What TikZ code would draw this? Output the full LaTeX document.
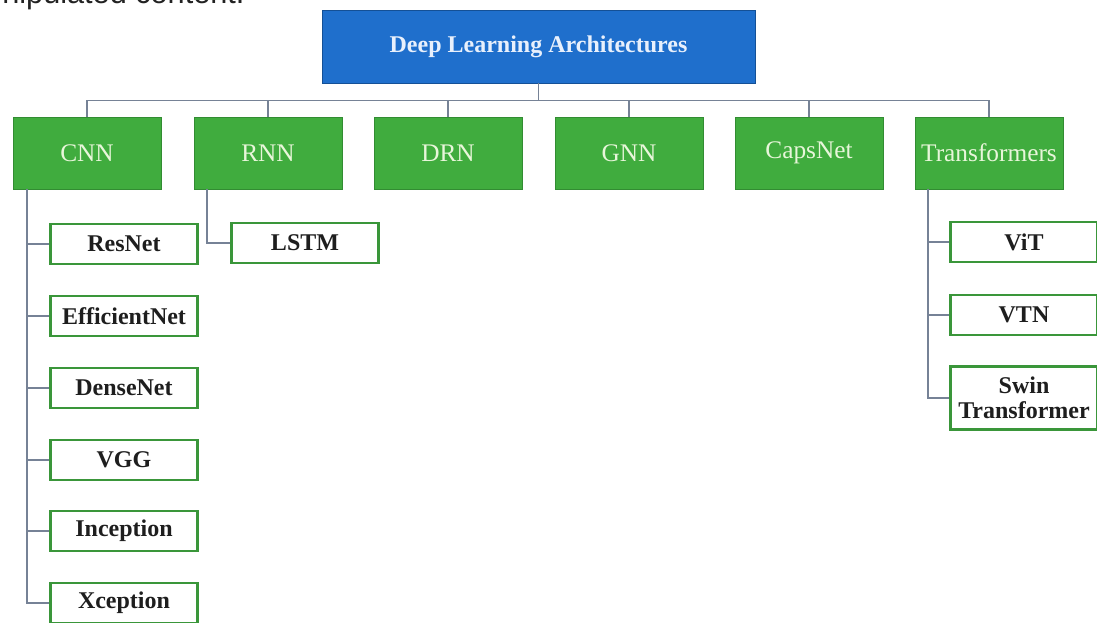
\documentclass[tikz,border=0pt]{standalone}
\usepackage{fontspec}
\setmainfont{Liberation Serif}
\newfontfamily\capfont{Liberation Sans}
\usetikzlibrary{positioning}

\definecolor{archblue}{RGB}{31,111,204}
\definecolor{archgreen}{RGB}{64,172,62}
\definecolor{leafgreen}{RGB}{58,150,58}
\definecolor{linkgray}{RGB}{118,130,150}
\definecolor{palegreen}{RGB}{232,246,218}

\tikzset{every picture/.style={line width=0.75pt}}
\tikzset{
  rootbox/.style={draw={rgb,255:red,20;green,80;blue,150}, line width=0.6pt, fill=archblue,
    minimum width=324.75pt, minimum height=54.75pt, inner sep=0pt,
    text={rgb,255:red,232;green,240;blue,252}, font=\fontsize{18}{20}\selectfont\bfseries},
  familybox/.style={draw={rgb,255:red,50;green,140;blue,50}, line width=0.6pt, fill=archgreen,
    minimum width=111pt, minimum height=54pt, inner sep=0pt,
    text=palegreen, font=\fontsize{19}{21}\selectfont},
  modelbox/.style={draw=leafgreen, line width=1.9pt, fill=white,
    minimum width=110pt, minimum height=30pt, inner sep=0pt, align=center,
    text={rgb,255:red,30;green,30;blue,30}, font=\fontsize{18}{19}\selectfont\bfseries},
  link/.style={draw=linkgray, line width=1.2pt}
}

\begin{document}
\begin{tikzpicture}[x=0.75pt,y=0.75pt,yscale=-1,xscale=1]
\useasboundingbox (0,0) rectangle (1097,623);

% Text Node
\node [anchor=base east, inner sep=0pt, text={rgb,255:red,34;green,34;blue,34}, font=\capfont\fontsize{23}{26}\selectfont] (note) at (245,4) {nipulated content.};

%Shape: Rectangle
\node [rootbox] (root) at (538.5,46.5) {Deep Learning Architectures};

%Shape: Rectangle
\node [familybox] (cnn) at (87,153) {CNN};
\node [familybox] (rnn) at (268,153) {RNN};
\node [familybox] (drn) at (448,153) {DRN};
\node [familybox] (gnn) at (629,153) {GNN};
\node [familybox] (caps) at (809,153) {CapsNet};
\node [familybox] (trans) at (989,153) {Transformers};

%Straight Lines
\foreach \fam in {cnn,rnn,drn,gnn,caps,trans}
  \draw [link] (root.south) -- ++(0,17) -| (\fam.north);

%Shape: Rectangle
\node [modelbox] (resnet) at (124,244) {ResNet};
\node [modelbox] (effnet) at (124,316) {EfficientNet};
\node [modelbox] (densenet) at (124,388) {DenseNet};
\node [modelbox] (vgg) at (124,460) {VGG};
\node [modelbox] (inception) at (124,531) {Inception};
\node [modelbox] (xception) at (124,603) {Xception};

\node [modelbox] (lstm) at (305,243) {LSTM};

\node [modelbox] (vit) at (1024,242) {ViT};
\node [modelbox] (vtn) at (1024,315) {VTN};
\node [modelbox, minimum height=47pt] (swin) at (1024,398) {Swin\\Transformer};

%Straight Lines
\foreach \mdl in {resnet,effnet,densenet,vgg,inception,xception}
  \draw [link] ([xshift=11pt]cnn.south west) |- (\mdl.west);
\draw [link] ([xshift=10pt]rnn.south west) |- (lstm.west);
\foreach \mdl in {vit,vtn,swin}
  \draw [link] ([xshift=10pt]trans.south west) |- (\mdl.west);

\end{tikzpicture}
\end{document}
